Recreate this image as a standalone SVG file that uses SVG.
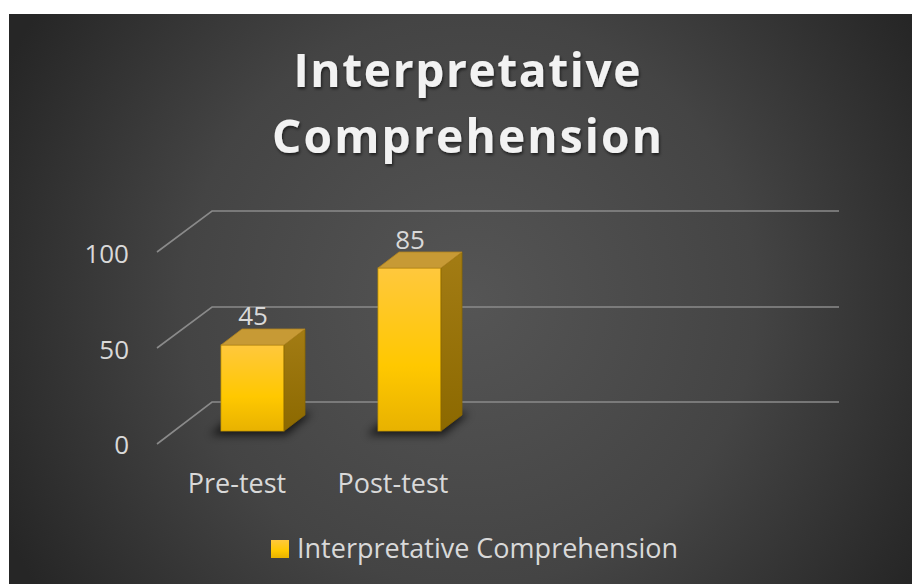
<svg xmlns="http://www.w3.org/2000/svg" width="912" height="584" viewBox="0 0 912 584">
  <style>
    .grid { fill: none; stroke: #8a8a8a; stroke-width: 1.6; }
    .axis { font-family: "Open Sans", "Liberation Sans", sans-serif; font-size: 27px; fill: #d9d9d9; }
    .num { font-size: 26px; }
    .title { font-family: "Open Sans", "Liberation Sans", sans-serif; font-weight: bold; font-size: 46px; fill: #f2f2f2; }
    .front { stroke: #c99a00; stroke-width: 0.8; }
    .side { fill: url(#sideGrad); stroke: #8a6700; stroke-width: 0.8; }
    .top { fill: #c79a35; stroke: #b08420; stroke-width: 0.8; }
  </style>
  <defs>
    <radialGradient id="bg" cx="470" cy="300" r="520" gradientUnits="userSpaceOnUse">
      <stop offset="0" stop-color="#555555"/>
      <stop offset="0.55" stop-color="#444444"/>
      <stop offset="1" stop-color="#262626"/>
    </radialGradient>
    <linearGradient id="frontGrad" x1="0" y1="0" x2="0" y2="1">
      <stop offset="0" stop-color="#ffc83d"/>
      <stop offset="0.6" stop-color="#ffc800"/>
      <stop offset="1" stop-color="#e8b200"/>
    </linearGradient>
    <linearGradient id="sideGrad" x1="0" y1="0" x2="0" y2="1">
      <stop offset="0" stop-color="#a37c14"/>
      <stop offset="1" stop-color="#8c6900"/>
    </linearGradient>
    <filter id="soft" x="-30%" y="-100%" width="160%" height="300%">
      <feGaussianBlur stdDeviation="4"/>
    </filter>
    <filter id="titleShadow" x="-5%" y="-20%" width="110%" height="140%">
      <feDropShadow dx="1" dy="2" stdDeviation="1.5" flood-color="#000000" flood-opacity="0.6"/>
    </filter>
  </defs>

  <!-- chart area -->
  <rect x="0" y="0" width="912" height="584" fill="#ffffff"/>
  <rect x="9" y="14" width="903" height="570" fill="url(#bg)"/>

  <!-- title -->
  <g id="title" filter="url(#titleShadow)">
    <text class="title" x="467" y="87" text-anchor="middle" textLength="347" lengthAdjust="spacing">Interpretative</text>
    <text class="title" x="467" y="153" text-anchor="middle" textLength="390" lengthAdjust="spacing">Comprehension</text>
  </g>

  <!-- gridlines with depth -->
  <g id="gridlines">
    <polyline class="grid" points="157,444 212,402 839,402"/>
    <polyline class="grid" points="157,348 212,307 839,307"/>
    <polyline class="grid" points="157,252 212,211 839,211"/>
  </g>

  <!-- value axis -->
  <g id="value-axis" class="axis num" text-anchor="end">
    <text x="129" y="263">100</text>
    <text x="129" y="359">50</text>
    <text x="129" y="454">0</text>
  </g>

  <!-- bar: Pre-test -->
  <g id="bar-pretest">
    <polygon points="210,435 286,435 312,413 236,413" fill="#000000" opacity="0.7" filter="url(#soft)"/>
    <rect class="front" x="221" y="345" width="63" height="86" fill="url(#frontGrad)"/>
    <polygon class="side" points="284,345 305,329 305,415 284,431"/>
    <polygon class="top" points="221,345 242,329 305,329 284,345"/>
    <text class="axis num" x="253" y="325" text-anchor="middle">45</text>
  </g>

  <!-- bar: Post-test -->
  <g id="bar-posttest">
    <polygon points="367,435 443,435 469,413 393,413" fill="#000000" opacity="0.7" filter="url(#soft)"/>
    <rect class="front" x="378" y="268" width="63" height="163" fill="url(#frontGrad)"/>
    <polygon class="side" points="441,268 462,252 462,415 441,431"/>
    <polygon class="top" points="378,268 399,252 462,252 441,268"/>
    <text class="axis num" x="410" y="249" text-anchor="middle">85</text>
  </g>

  <!-- category axis -->
  <g id="category-axis" class="axis" text-anchor="middle">
    <text x="237" y="493">Pre-test</text>
    <text x="393" y="493">Post-test</text>
  </g>

  <!-- legend -->
  <g id="legend">
    <rect x="271" y="540" width="18" height="18" fill="url(#frontGrad)"/>
    <text class="axis" x="297" y="558">Interpretative Comprehension</text>
  </g>
</svg>
